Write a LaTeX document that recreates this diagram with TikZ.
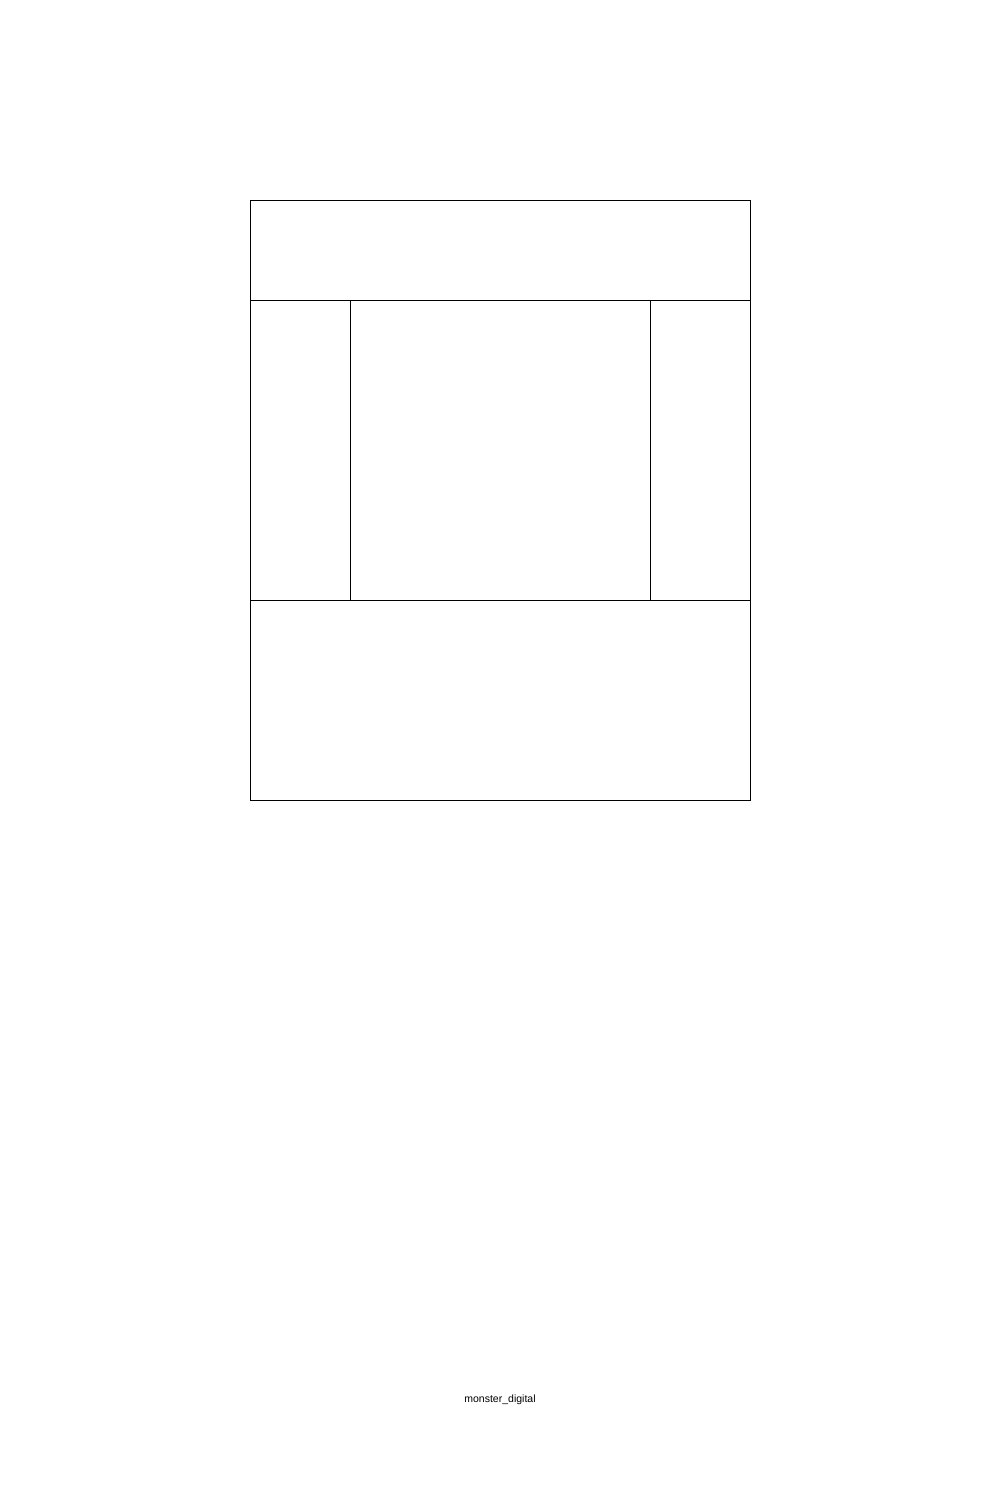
\documentclass[tikz,border=0pt]{standalone}
\usepackage{fontspec}
\setmainfont{Liberation Sans}
\usepackage{tikz}
\usetikzlibrary{positioning}

\tikzset{
  panel/.style={rectangle,draw,line width=1pt,inner sep=0pt,outer sep=0pt},
}

\begin{document}
\begin{tikzpicture}[x=1pt,y=-1pt]
\useasboundingbox (0,0) rectangle (1000,1500);
% frame pieces
\node[panel,minimum width=500pt,minimum height=100pt] (topband) at (500,250) {};
\node[panel,minimum width=100pt,minimum height=300pt] (leftcol) at (300,450) {};
\node[panel,minimum width=100pt,minimum height=300pt] (rightcol) at (700,450) {};
\node[panel,minimum width=500pt,minimum height=200pt] (bottomband) at (500,700) {};
% caption
\node[font=\fontsize{10.5}{12}\selectfont] (caption) at (500,1400) {monster\_digital};
\end{tikzpicture}
\end{document}
